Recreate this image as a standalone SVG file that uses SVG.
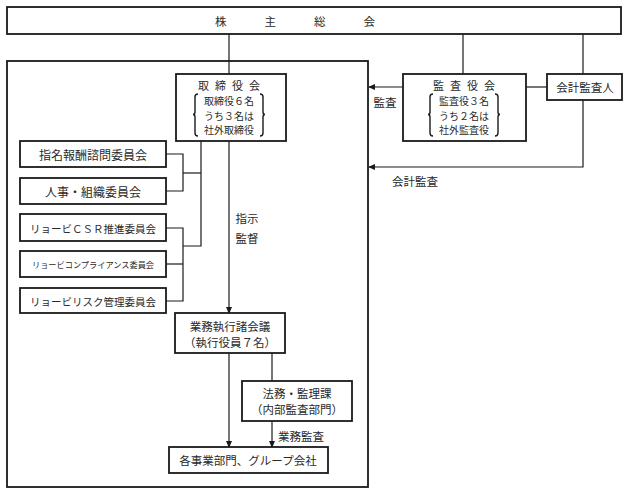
<svg xmlns="http://www.w3.org/2000/svg" width="628" height="495" viewBox="0 0 628 495">
<style>
  .box{fill:#fff;stroke:#1a1a1a;stroke-width:1.8}
  .ln{fill:none;stroke:#1a1a1a;stroke-width:1.2}
  .br{fill:none;stroke:#1a1a1a;stroke-width:1.4}
  text{font-family:"Noto Sans CJK JP","Noto Sans",sans-serif;font-size:11.5px;fill:#2a2a2a;text-anchor:middle;dominant-baseline:central}
  .s{font-size:10px}
  .c12{font-size:12px}
  .c105{font-size:10.5px}
  .c8{font-size:8.2px}
  .ttl{font-size:11px;letter-spacing:6px}
</style>
<defs>
  <marker id="ah" markerWidth="7" markerHeight="6" refX="6" refY="3" orient="auto" markerUnits="userSpaceOnUse">
    <path d="M0,0 L7,3 L0,6 Z" fill="#1a1a1a"/>
  </marker>
</defs>
<rect width="628" height="495" fill="#fff"/>

<g id="outer"><rect x="7" y="61" width="361" height="426" fill="none" stroke="#1a1a1a" stroke-width="1.8"/></g>

<g id="connectors">
  <path class="ln" d="M229,34 V74"/>
  <path class="ln" d="M463,34 V74"/>
  <path class="ln" d="M583,34 V74"/>
  <path class="ln" d="M547,87 H526"/>
  <path class="ln" d="M403,87 H369" marker-end="url(#ah)"/>
  <path class="ln" d="M583,100 V167 H369" marker-end="url(#ah)"/>
  <path class="ln" d="M201,141 V246 H183"/>
  <path class="ln" d="M201,173 H183"/>
  <path class="ln" d="M166,154 H183 V191 H166"/>
  <path class="ln" d="M166,228 H183 V301 H166"/>
  <path class="ln" d="M166,264 H183"/>
  <path class="ln" d="M229,141 V313" marker-end="url(#ah)"/>
  <path class="ln" d="M229,353 V447" marker-end="url(#ah)"/>
  <path class="ln" d="M272,353 V381"/>
  <path class="ln" d="M272,421 V447" marker-end="url(#ah)"/>
  <text x="385" y="102">監査</text>
  <text x="415" y="181">会計監査</text>
  <text x="247" y="218">指示</text>
  <text x="247" y="238">監督</text>
  <text x="301" y="436">業務監査</text>
</g>

<g id="shareholders">
  <rect class="box" x="7" y="7" width="614" height="27" stroke-width="2.2"/>
  <text x="314" y="21" letter-spacing="38">株主総会</text>
</g>

<g id="board">
  <rect class="box" x="176" y="74" width="110" height="67"/>
  <text class="ttl" x="232" y="85">取締役会</text>
  <text class="s" x="229" y="100.5">取締役６名</text>
  <text class="s" x="229" y="115">うち３名は</text>
  <text class="s" x="229" y="129.5">社外取締役</text>
  <path class="br" d="M198,94 Q195,94 195,97 V112 Q195,114.5 193,114.5 Q195,114.5 195,117 V133 Q195,136 198,136"/>
  <path class="br" d="M260,94 Q263,94 263,97 V112 Q263,114.5 265,114.5 Q263,114.5 263,117 V133 Q263,136 260,136"/>
</g>

<g id="auditors">
  <rect class="box" x="403" y="74" width="123" height="67"/>
  <text class="ttl" x="467" y="85">監査役会</text>
  <text class="s" x="464" y="100.5">監査役３名</text>
  <text class="s" x="464" y="115">うち２名は</text>
  <text class="s" x="464" y="129.5">社外監査役</text>
  <path class="br" d="M433,94 Q430,94 430,97 V112 Q430,114.5 428,114.5 Q430,114.5 430,117 V133 Q430,136 433,136"/>
  <path class="br" d="M495,94 Q498,94 498,97 V112 Q498,114.5 500,114.5 Q498,114.5 498,117 V133 Q498,136 495,136"/>
</g>

<g id="accounting-auditor">
  <rect class="box" x="547" y="74" width="75" height="26"/>
  <text x="585" y="87">会計監査人</text>
</g>

<g id="committee-nomination">
  <rect class="box" x="20" y="141" width="146" height="26"/>
  <text class="c12" x="93" y="154">指名報酬諮問委員会</text>
</g>
<g id="committee-hr">
  <rect class="box" x="20" y="178" width="146" height="26"/>
  <text class="c12" x="93" y="191">人事・組織委員会</text>
</g>
<g id="committee-csr">
  <rect class="box" x="20" y="214" width="146" height="27"/>
  <text class="c105" x="93" y="228">リョービＣＳＲ推進委員会</text>
</g>
<g id="committee-compliance">
  <rect class="box" x="20" y="251" width="146" height="26"/>
  <text class="c8" x="93" y="264">リョービコンプライアンス委員会</text>
</g>
<g id="committee-risk">
  <rect class="box" x="20" y="288" width="146" height="25"/>
  <text class="c105" x="93" y="301">リョービリスク管理委員会</text>
</g>

<g id="executive">
  <rect class="box" x="175" y="313" width="110" height="40"/>
  <text x="230" y="326">業務執行諸会議</text>
  <text x="230" y="342">（執行役員７名）</text>
</g>

<g id="legal">
  <rect class="box" x="242" y="381" width="110" height="40"/>
  <text x="297" y="393">法務・監理課</text>
  <text x="297" y="409">（内部監査部門）</text>
</g>

<g id="divisions">
  <rect class="box" x="169" y="447" width="159" height="26"/>
  <text x="248" y="460">各事業部門、グループ会社</text>
</g>
</svg>
